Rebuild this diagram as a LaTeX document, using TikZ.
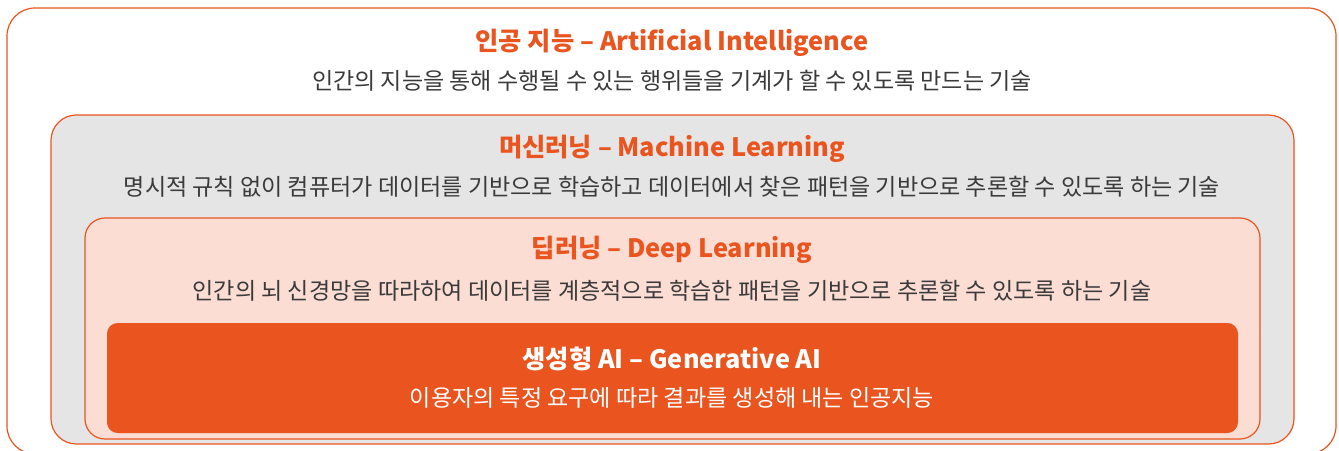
\documentclass[tikz,border=0pt]{standalone}
\usepackage{fontspec}
\setmainfont{Noto Sans CJK KR}
\usetikzlibrary{positioning}
\definecolor{aiorange}{HTML}{E9541F}
\definecolor{mlgray}{HTML}{E5E5E5}
\definecolor{dlpink}{HTML}{FCDDD3}
\definecolor{desctext}{HTML}{3A3A3A}

\tikzset{
  layerbox/.style={draw=aiorange, line width=0.9pt},
  titlelabel/.style={text=aiorange, font=\fontsize{19}{21}\selectfont\bfseries, inner sep=0pt},
  desclabel/.style={text=desctext, font=\fontsize{17.3}{19}\selectfont, inner sep=0pt},
}

\begin{document}
\begin{tikzpicture}[x=0.75pt, y=-0.75pt]
  \useasboundingbox (0,0) rectangle (1339,450);
  % nested layers
  \draw[layerbox, fill=white, rounded corners=21pt] (7,8) rectangle (1336,454);
  \draw[layerbox, fill=mlgray, rounded corners=19pt] (51,115) rectangle (1294,444);
  \draw[layerbox, fill=dlpink, rounded corners=15pt] (85,218) rectangle (1260,439);
  \fill[aiorange, rounded corners=8pt] (107,323) rectangle (1238,433);

  \node[titlelabel] (ai) at (672,43) {인공 지능 – Artificial Intelligence};
  \node[desclabel, below=9.75pt of ai] (aiDesc) {인간의 지능을 통해 수행될 수 있는 행위들을 기계가 할 수 있도록 만드는 기술};

  \node[titlelabel] (ml) at (672,149) {머신러닝 – Machine Learning};
  \node[desclabel, below=9.75pt of ml] (mlDesc) {명시적 규칙 없이 컴퓨터가 데이터를 기반으로 학습하고 데이터에서 찾은 패턴을 기반으로 추론할 수 있도록 하는 기술};

  \node[titlelabel] (dl) at (672,250) {딥러닝 – Deep Learning};
  \node[desclabel, below=12pt of dl] (dlDesc) {인간의 뇌 신경망을 따라하여 데이터를 계층적으로 학습한 패턴을 기반으로 추론할 수 있도록 하는 기술};

  \node[titlelabel, text=white] (gen) at (672,359) {생성형 AI – Generative AI};
  \node[desclabel, text=white, below=12pt of gen] (genDesc) {이용자의 특정 요구에 따라 결과를 생성해 내는 인공지능};
\end{tikzpicture}
\end{document}
